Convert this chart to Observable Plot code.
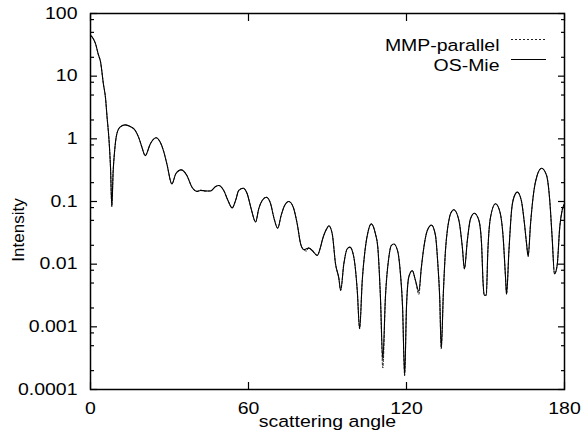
<!DOCTYPE html>
<html><head><meta charset="utf-8">
<script src="https://cdn.jsdelivr.net/npm/d3@7"></script>
<script src="https://cdn.jsdelivr.net/npm/@observablehq/plot@0.6"></script>
<style>body{margin:0;background:#fff}#chart{width:581px;height:440px}
svg text, svg g{font-variant:normal !important;font-variant-numeric:normal !important}</style>
</head><body><div id="chart"></div>
<script>
// ---- data ----
const angles = [0,1.0,1.9,3.0,3.8,4.9,5.7,6.3,7.0,7.6,8.1,8.6,9.1,10.0,11.3,13.2,15.1,17.0,18.5,19.5,20.8,22.7,24.9,26.5,27.7,29.0,30.9,32.4,34.4,36.6,38.5,40.4,41.8,43.5,45.6,47.5,48.7,50.6,52.2,53.8,55.1,56.3,58.0,59.5,61.0,62.7,63.9,65.2,66.8,68.4,69.6,71.1,72.4,73.7,75.3,77.0,78.5,79.8,81.0,82.0,82.9,84.2,86.1,87.35,88.0,89.9,90.5,91.8,93.05,94.3,95.0,96.2,97.5,98.5,100.0,101.3,102.2,103.2,104.4,105.5,106.6,108.2,109.1,110.1,111.0,112.0,113.3,114.2,115.2,116.7,117.7,118.5,119.3,120.0,120.9,122.2,123.4,124.7,125.6,126.6,127.9,129.5,131.0,131.9,132.6,133.2,134.0,134.8,135.5,136.1,136.7,138.0,139.9,141.2,142.0,143.1,144.3,145.8,147.5,148.5,149.1,149.5,150.3,150.9,151.9,153.8,155.5,156.7,157.6,158.0,158.9,159.9,160.8,162.1,163.6,164.8,165.6,166.2,167.1,168.4,169.6,171.3,173.2,174.4,175.3,176.2,177.2,178.2,179.1,180.0];
const osMie = [45,40,33,22,17,7.5,4.5,2.2,1.0,0.35,0.083,0.3,0.6,1.2,1.55,1.67,1.57,1.36,1.0,0.74,0.54,0.83,1.04,0.88,0.65,0.40,0.19,0.277,0.32,0.26,0.17,0.145,0.150,0.148,0.147,0.173,0.18,0.15,0.104,0.079,0.104,0.15,0.163,0.133,0.077,0.047,0.077,0.104,0.117,0.092,0.056,0.0375,0.06,0.086,0.10,0.081,0.044,0.021,0.017,0.0176,0.018,0.0165,0.0138,0.0187,0.024,0.038,0.041,0.0305,0.0101,0.006,0.0038,0.0101,0.0176,0.0187,0.0129,0.0038,0.00093,0.0055,0.0187,0.0344,0.044,0.0305,0.0187,0.003,0.0003,0.003,0.0129,0.0198,0.021,0.0158,0.007,0.0021,0.000167,0.0021,0.0063,0.0079,0.0055,0.0037,0.0085,0.0187,0.0344,0.042,0.0287,0.0101,0.003,0.00045,0.0035,0.0165,0.0344,0.0498,0.0635,0.074,0.0498,0.0187,0.0084,0.0239,0.053,0.065,0.0498,0.0211,0.0049,0.0032,0.0032,0.0165,0.056,0.092,0.0676,0.027,0.0062,0.0033,0.0165,0.072,0.117,0.141,0.104,0.044,0.0211,0.0133,0.044,0.15,0.26,0.34,0.26,0.104,0.027,0.0070,0.0095,0.039,0.072,0.092];
const mmpParallel = [45,40,33,22,17,7.5,4.5,2.2,1.0,0.35,0.083,0.3,0.6,1.2,1.55,1.67,1.57,1.36,1.0,0.74,0.54,0.83,1.04,0.88,0.65,0.40,0.19,0.277,0.32,0.26,0.17,0.145,0.152,0.146,0.148,0.173,0.18,0.15,0.104,0.079,0.104,0.15,0.163,0.133,0.077,0.047,0.077,0.104,0.117,0.092,0.056,0.0375,0.06,0.086,0.10,0.081,0.044,0.021,0.017,0.0162,0.0185,0.0165,0.0138,0.0187,0.024,0.038,0.041,0.0305,0.0101,0.006,0.0038,0.0101,0.0176,0.0187,0.0129,0.0038,0.00093,0.0055,0.0187,0.0344,0.044,0.0305,0.0187,0.003,0.00022,0.003,0.0129,0.0198,0.021,0.0158,0.007,0.0021,0.000167,0.0021,0.0063,0.0079,0.0055,0.0033,0.0085,0.0187,0.0344,0.042,0.0287,0.0101,0.003,0.00045,0.0035,0.0165,0.0344,0.0498,0.0635,0.074,0.0498,0.0187,0.0084,0.0239,0.053,0.065,0.0498,0.0211,0.0049,0.0032,0.0032,0.0165,0.056,0.092,0.0676,0.027,0.0062,0.0033,0.0165,0.072,0.117,0.141,0.104,0.044,0.0211,0.0133,0.044,0.15,0.26,0.34,0.26,0.104,0.027,0.0070,0.0095,0.039,0.072,0.092];
const seriesNames = ["MMP-parallel", "OS-Mie"];
const xTicks = [0, 60, 120, 180];
const yTicks = [1e-4, 1e-3, 1e-2, 0.1, 1, 10, 100];
const yTickLabels = ["0.0001", "0.001", "0.01", "0.1", "1", "10", "100"];
const minorMantissas = [2, 5, 8];
const xLabel = "scattering angle";
const yLabel = "Intensity";

// ---- build ----
const rows = (vals, name) => angles.map((a, i) => ({angle: a, value: vals[i], series: name}));
const mmpRows = rows(mmpParallel, seriesNames[0]);
const osRows = rows(osMie, seriesNames[1]);
const minorTicks = yTicks.slice(0, -1).flatMap(d => minorMantissas.map(m => d * m));
const yLabelMap = new Map(yTicks.map((t, i) => [t, yTickLabels[i]]));
const blank = () => "";
const font = "'Liberation Sans', Arial, Helvetica, sans-serif";
const tickStyle = {stroke: "#000", strokeWidth: 1.2, label: null, tickFormat: blank};

const chart = Plot.plot({
  width: 581, height: 440,
  marginLeft: 90, marginRight: 17, marginTop: 13, marginBottom: 51,
  style: {fontFamily: font, fontSize: "16.5px", color: "#000", background: "#fff", overflow: "visible"},
  x: {domain: [0, 180]},
  y: {type: "log", domain: [1e-4, 100]},
  marks: [
    Plot.axisY(yTicks, {anchor: "left", tickSize: 0, tickPadding: 13, tickFormat: d => yLabelMap.get(d), label: null}),
    Plot.axisY(yTicks, {anchor: "left", tickSize: -7, ...tickStyle}),
    Plot.axisY(minorTicks, {anchor: "left", tickSize: -4, ...tickStyle}),
    Plot.axisY(yTicks, {anchor: "right", tickSize: -7, ...tickStyle}),
    Plot.axisY(minorTicks, {anchor: "right", tickSize: -4, ...tickStyle}),
    Plot.axisX(xTicks, {anchor: "bottom", tickSize: 0, tickPadding: 13, label: null}),
    Plot.axisX(xTicks, {anchor: "bottom", tickSize: -7, ...tickStyle}),
    Plot.axisX(xTicks, {anchor: "top", tickSize: -7, ...tickStyle}),
    Plot.lineY(mmpRows, {x: "angle", y: "value", stroke: "#222", strokeWidth: 1, strokeDasharray: "2,2", curve: "monotone-x"}),
    Plot.lineY(osRows, {x: "angle", y: "value", stroke: "#000", strokeWidth: 1.1, curve: "monotone-x"}),
    Plot.frame({stroke: "#000", strokeWidth: 1.5}),
    Plot.text([xLabel], {frameAnchor: "bottom", dy: 37.5, fill: "#000"}),
    Plot.text([seriesNames[0]], {frameAnchor: "top-right", textAnchor: "end", dx: -65, dy: 26.2, fill: "#000"}),
    Plot.text([seriesNames[1]], {frameAnchor: "top-right", textAnchor: "end", dx: -65, dy: 46.2, fill: "#000"})
  ]
});
document.getElementById("chart").appendChild(chart);
chart.querySelectorAll("[font-variant]").forEach(g => g.removeAttribute("font-variant"));

const svg = d3.select(chart);
// y-axis title
svg.append("text").text(yLabel)
  .attr("transform", "translate(18,230) rotate(-90)")
  .attr("text-anchor", "middle").attr("dy", "0.35em")
  .attr("font-family", font).attr("font-size", 17).attr("fill", "#000");

// legend sample lines
const legendLines = [
  {y: 39.5, dash: "2,2", stroke: "#222", w: 1},
  {y: 59.5, dash: null, stroke: "#000", w: 1.1}
];
legendLines.forEach(l => {
  svg.append("line").attr("x1", 511).attr("x2", 546).attr("y1", l.y).attr("y2", l.y)
    .attr("stroke", l.stroke).attr("stroke-width", l.w).attr("stroke-dasharray", l.dash);
});

// horizontal stretch of non-rotated text (reference glyphs are wide)
const S = 1.18;
chart.querySelectorAll("text").forEach(t => {
  const tr = t.getAttribute("transform") || "";
  if (tr.includes("rotate")) return;
  const x = t.getAttribute("x");
  if (x != null && !isNaN(+x)) t.setAttribute("x", +x / S);
  t.setAttribute("transform", tr + ` scale(${S},1)`);
});
</script>
</body></html>
